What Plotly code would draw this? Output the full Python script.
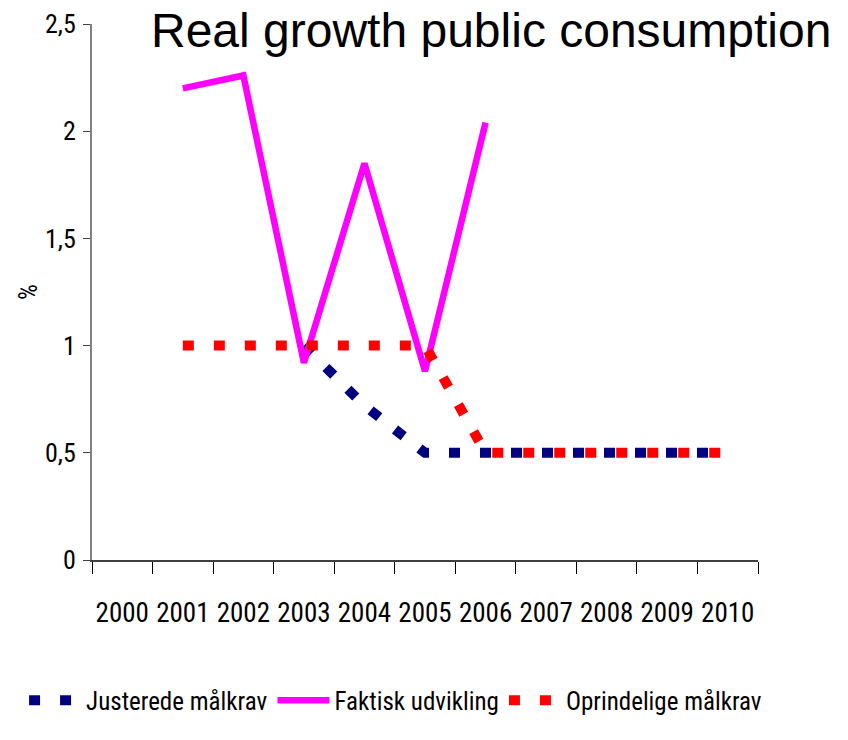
import plotly.graph_objects as go

# Years on the category axis
years = ["2000", "2001", "2002", "2003", "2004", "2005",
         "2006", "2007", "2008", "2009", "2010"]

# Series values (% real growth); None where a series has no value
justerede = [None, None, None, 1.0, 0.72, 0.5, 0.5, 0.5, 0.5, 0.5, 0.5]
faktisk = [None, 2.2, 2.26, 0.92, 1.85, 0.88, 2.04, None, None, None, None]
oprindelige = [None, 1.0, 1.0, 1.0, 1.0, 1.0, 0.5, 0.5, 0.5, 0.5, 0.5]

y_ticks = [0, 0.5, 1, 1.5, 2, 2.5]
y_tick_text = ["0", "0,5", "1", "1,5", "2", "2,5"]

NARROW = "Roboto Condensed, Liberation Sans, Arial, sans-serif"
WIDE = "Liberation Sans, Arial, sans-serif"

fig = go.Figure()
fig.add_trace(go.Scatter(
    x=years, y=justerede, name="Justerede målkrav", mode="lines",
    line=dict(color="#000080", width=10, dash="11px,20px"),
))
fig.add_trace(go.Scatter(
    x=years, y=faktisk, name="Faktisk udvikling", mode="lines",
    line=dict(color="#FF00FF", width=6.5),
))
fig.add_trace(go.Scatter(
    x=years, y=oprindelige, name="Oprindelige målkrav", mode="lines",
    line=dict(color="#FF0000", width=10, dash="11px,20px"),
))

fig.update_layout(
    width=848, height=740,
    margin=dict(l=92, r=90, t=24, b=180),
    paper_bgcolor="white", plot_bgcolor="white",
    font=dict(family=NARROW, size=26, color="black"),
    showlegend=True,
    legend=dict(
        orientation="h", x=-0.102, xanchor="left", y=-0.305, yanchor="bottom",
        font=dict(family=NARROW, size=25, color="black"), itemwidth=52,
        tracegroupgap=0, bgcolor="rgba(0,0,0,0)",
    ),
    annotations=[dict(
        text="Real growth public consumption", xref="paper", yref="paper",
        x=(491 - 92) / 666, xanchor="center",
        y=1.0, yanchor="middle", yshift=-6, showarrow=False,
        font=dict(family=WIDE, size=48, color="black"),
    )],
)

fig.update_xaxes(
    type="category", categoryorder="array", categoryarray=years,
    range=[-0.5, 10.5], tickson="boundaries", tickangle=0,
    ticks="outside", ticklen=12, tickcolor="black", tickwidth=1,
    showline=True, linecolor="#404040", linewidth=1.5,
    showgrid=False, zeroline=False, ticklabelstandoff=28,
    tickfont=dict(family=NARROW, size=27, color="black"), automargin=False,
)
fig.update_yaxes(
    range=[0, 2.5], tickvals=y_ticks, ticktext=y_tick_text,
    ticks="outside", ticklen=7, tickcolor="#404040", tickwidth=1,
    showline=True, linecolor="#808080", linewidth=2,
    showgrid=False, zeroline=False, ticklabelstandoff=2,
    tickfont=dict(family=NARROW, size=26, color="black"), automargin=False,
    title=dict(text="%", standoff=0, font=dict(family=NARROW, size=25, color="black")),
)

fig.write_html("out.html")
